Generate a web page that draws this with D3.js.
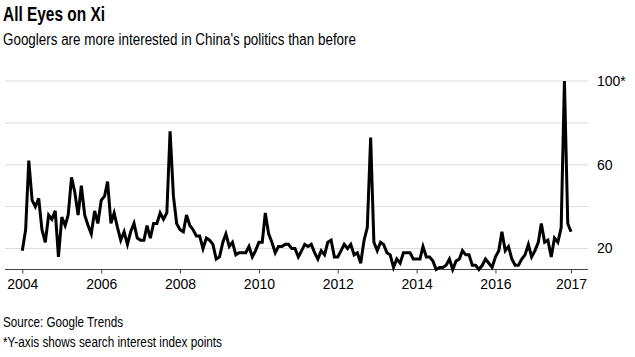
<!DOCTYPE html>
<html>
<head>
<meta charset="utf-8">
<script src="https://cdn.jsdelivr.net/npm/d3@7"></script>
<style>
  html, body { margin: 0; padding: 0; background: #fff; }
  svg { display: block; }
  .title { font-family: "Liberation Sans Narrow", "Arial Narrow", "Liberation Sans", Arial, sans-serif; font-weight: bold; }
  .txt { font-family: "Liberation Sans Narrow", "Arial Narrow", "Liberation Sans", Arial, sans-serif; }
  .ax { font-family: "Liberation Sans", Arial, sans-serif; }
</style>
</head>
<body>
<svg id="chart" width="635" height="357"></svg>
<script>
// ---- Data ----
const startMonth = "2004-01";
const endMonth = "2017-12";
const interest = [
  19, 29, 62, 43, 40, 44, 29, 23, 36, 34, 38, 16,
  35, 31, 36, 54, 47, 36, 50, 36, 31, 27, 38, 32,
  43, 45, 52, 32, 37, 30, 24, 28, 22, 28, 32, 25,
  24, 24, 31, 25, 32, 32, 37, 34, 37, 76, 45, 32,
  29, 28, 36, 31, 29, 26, 26, 20, 25, 24, 22, 15,
  16, 23, 27, 21, 23, 17, 18, 18, 18, 21, 16, 19,
  23, 23, 37, 27, 23, 18, 21, 21, 22, 22, 20, 20,
  16, 19, 22, 21, 22, 18, 15, 19, 17, 23, 24, 16,
  16, 19, 22, 20, 22, 17, 18, 13, 24, 30, 73, 23,
  19, 23, 22, 18, 17, 11, 15, 13, 18, 18, 18, 15,
  15, 15, 21, 16, 16, 14, 10, 11, 11, 12, 15, 10,
  14, 15, 19, 17, 17, 12, 12, 10, 12, 15, 13, 11,
  16, 19, 28, 19, 21, 15, 12, 12, 15, 17, 22, 16,
  19, 23, 32, 23, 24, 16, 25, 23, 30, 100, 32, 28
];
const xTickDates = ["2004-01", "2006-01", "2008-01", "2010-01", "2012-01", "2014-01", "2016-01", "2017-12"];
const xTickLabels = ["2004", "2006", "2008", "2010", "2012", "2014", "2016", "2017"];
const gridValues = [20, 40, 60, 80, 100];
const yTickValues = [20, 60, 100];
const yTickLabels = ["20", "60", "100*"];
const yDomain = [10, 100];

const title = "All Eyes on Xi";
const subtitle = "Googlers are more interested in China's politics than before";
const source = "Source: Google Trends";
const note = "*Y-axis shows search interest index points";

// ---- Build ----
const parseMonth = d3.timeParse("%Y-%m");
const t0 = parseMonth(startMonth);
const months = d3.timeMonth.range(t0, d3.timeMonth.offset(parseMonth(endMonth), 1));
const data = months.map((d, i) => ({ date: d, value: interest[i] }));

const svg = d3.select("#chart");
const plotLeft = 5, plotRight = 588;

const x = d3.scaleTime()
  .domain([t0, parseMonth(endMonth)])
  .range([22.3, 571]);
const y = d3.scaleLinear().domain(yDomain).range([269.5, 81]);

function fitText(sel, len) {
  sel.attr("textLength", len).attr("lengthAdjust", "spacingAndGlyphs");
}

// Title
svg.append("text").attr("class", "title").attr("x", 3).attr("y", 21)
  .attr("font-size", 20).attr("fill", "#000").text(title).call(fitText, 102);
svg.append("text").attr("class", "txt").attr("x", 3).attr("y", 45)
  .attr("font-size", 16).attr("fill", "#000").text(subtitle).call(fitText, 353);

// Gridlines
svg.append("g").selectAll("line").data(gridValues).join("line")
  .attr("x1", plotLeft).attr("x2", plotRight)
  .attr("y1", d => y(d)).attr("y2", d => y(d))
  .attr("stroke", "#dcdcdc").attr("stroke-width", 1);

// Y labels (right)
svg.append("g").selectAll("text").data(yTickValues).join("text")
  .attr("class", "ax")
  .attr("x", 597).attr("y", d => y(d)).attr("dy", "0.35em")
  .attr("font-size", 14).attr("fill", "#000")
  .text((d, i) => yTickLabels[i]);

// X axis
const xTicks = xTickDates.map(parseMonth);
const xAxis = d3.axisBottom(x)
  .tickValues(xTicks)
  .tickSize(4)
  .tickPadding(6)
  .tickFormat((d, i) => xTickLabels[i]);
const gx = svg.append("g").attr("transform", `translate(0,${y(10)})`).call(xAxis);
gx.select(".domain").remove();
gx.append("line").attr("x1", plotLeft).attr("x2", plotRight).attr("y1", 0).attr("y2", 0)
  .attr("stroke", "#444").attr("stroke-width", 1);
gx.selectAll(".tick line").attr("stroke", "#444");
gx.attr("font-family", null).attr("font-size", null);
gx.selectAll(".tick text").attr("class", "ax").attr("font-size", 14).attr("fill", "#000");

// Line
const line = d3.line().x(d => x(d.date)).y(d => y(d.value));
svg.append("path").datum(data)
  .attr("d", line)
  .attr("fill", "none")
  .attr("stroke", "#000")
  .attr("stroke-width", 3)
  .attr("stroke-linejoin", "miter")
  .attr("stroke-miterlimit", 4);

// Footer
svg.append("text").attr("class", "txt").attr("x", 3).attr("y", 327)
  .attr("font-size", 14).attr("fill", "#000").text(source).call(fitText, 120);
svg.append("text").attr("class", "txt").attr("x", 3).attr("y", 347)
  .attr("font-size", 14).attr("fill", "#000").text(note).call(fitText, 219);
</script>
</body>
</html>
